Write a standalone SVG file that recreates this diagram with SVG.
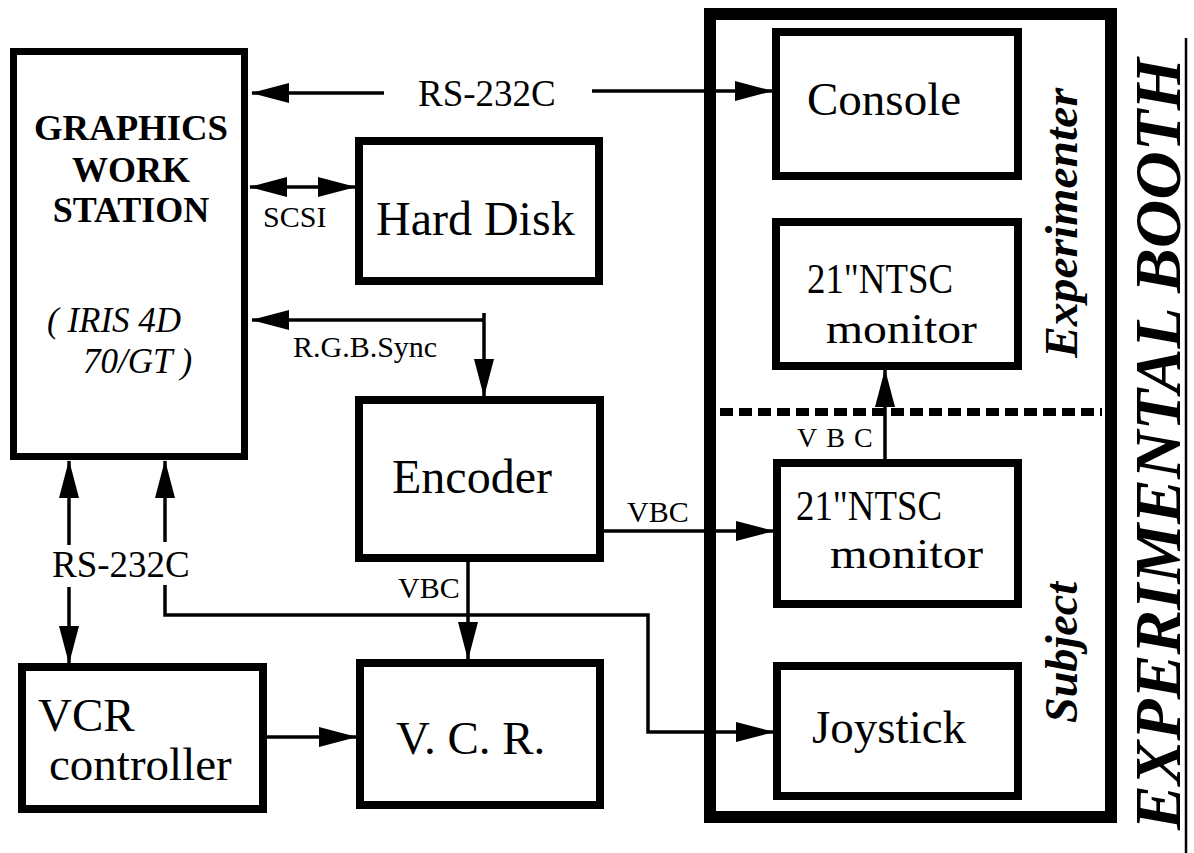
<svg xmlns="http://www.w3.org/2000/svg" width="1194" height="853" viewBox="0 0 1194 853">
<style>
.box{fill:none;stroke:#000;stroke-width:8}
.t{fill:#000}
.c{fill:none;stroke:#000;stroke-width:3.5}
.lbl{fill:#000;font-size:30px}
</style>
<defs>
<marker id="ah" viewBox="0 0 38 20" refX="37" refY="10" markerWidth="38" markerHeight="20" markerUnits="userSpaceOnUse" orient="auto-start-reverse">
<path d="M0,0 L38,10 L0,20 z" fill="#000"/>
</marker>
</defs>
<rect width="1194" height="853" fill="#fff"/>
<g font-family="Liberation Serif, Times New Roman, DejaVu Serif, serif">

<g id="booth">
<rect x="710" y="14" width="401" height="803" fill="none" stroke="#000" stroke-width="12"/>
<line x1="720" y1="412" x2="1102" y2="412" stroke="#000" stroke-width="8" stroke-dasharray="13 6"/>
<text class="t" font-size="46" font-style="italic" font-weight="bold" transform="translate(1077,358) rotate(-90)" textLength="270" lengthAdjust="spacingAndGlyphs">Experimenter</text>
<text class="t" font-size="46" font-style="italic" font-weight="bold" transform="translate(1077,723) rotate(-90)" textLength="141" lengthAdjust="spacingAndGlyphs">Subject</text>
<text class="t" font-size="66" font-style="italic" font-weight="bold" transform="translate(1180,830) rotate(-90)" textLength="772" lengthAdjust="spacingAndGlyphs">EXPERIMENTAL BOOTH</text>
<line x1="1186" y1="38" x2="1186" y2="853" stroke="#000" stroke-width="2.5"/>
</g>

<g id="gws">
<rect x="13.5" y="51.5" width="231" height="405" fill="none" stroke="#000" stroke-width="7"/>
<text class="t" font-size="36" font-weight="bold" text-anchor="middle" x="131" y="140" textLength="194" lengthAdjust="spacingAndGlyphs">GRAPHICS</text>
<text class="t" font-size="36" font-weight="bold" text-anchor="middle" x="131" y="182">WORK</text>
<text class="t" font-size="36" font-weight="bold" text-anchor="middle" x="131" y="222">STATION</text>
<text class="t" font-size="35" font-style="italic" x="47" y="332" xml:space="preserve">( IRIS 4D</text>
<text class="t" font-size="35" font-style="italic" x="83" y="373">70/GT )</text>
</g>

<g id="harddisk">
<rect class="box" x="359" y="141" width="240" height="140"/>
<text class="t" font-size="48" x="376" y="235">Hard Disk</text>
</g>

<g id="encoder">
<rect class="box" x="359" y="400" width="241" height="158"/>
<text class="t" font-size="48" x="392" y="493">Encoder</text>
</g>

<g id="vcrcontroller">
<rect class="box" x="22" y="667" width="241" height="142"/>
<text class="t" font-size="47" x="38" y="731">VCR</text>
<text class="t" font-size="47" x="49" y="780">controller</text>
</g>

<g id="vcr">
<rect class="box" x="360" y="663" width="240" height="142"/>
<text class="t" font-size="47" x="396" y="754" xml:space="preserve">V. C. R.</text>
</g>

<g id="console">
<rect class="box" x="776" y="32" width="242" height="144"/>
<text class="t" font-size="47" x="807" y="115">Console</text>
</g>

<g id="monitor-exp">
<rect class="box" x="776" y="222" width="242" height="144"/>
<text class="t" font-size="42" x="807" y="293" textLength="146" lengthAdjust="spacingAndGlyphs">21"NTSC</text>
<text class="t" font-size="42" x="826" y="343" textLength="151" lengthAdjust="spacingAndGlyphs">monitor</text>
</g>

<g id="monitor-subj">
<rect class="box" x="777" y="463" width="241" height="141"/>
<text class="t" font-size="42" x="796" y="520" textLength="146" lengthAdjust="spacingAndGlyphs">21"NTSC</text>
<text class="t" font-size="42" x="830" y="568" textLength="153" lengthAdjust="spacingAndGlyphs">monitor</text>
</g>

<g id="joystick">
<rect class="box" x="777" y="666" width="241" height="130"/>
<text class="t" font-size="47" x="812" y="743">Joystick</text>
</g>

<g id="connectors">
<line class="c" x1="384" y1="93" x2="252" y2="93" marker-end="url(#ah)"/>
<line class="c" x1="592" y1="91" x2="772" y2="91" marker-end="url(#ah)"/>
<text class="t" font-size="37" x="418" y="106">RS-232C</text>
<line class="c" x1="250" y1="187" x2="355" y2="187" marker-start="url(#ah)" marker-end="url(#ah)"/>
<text class="lbl" x="263" y="227">SCSI</text>
<line class="c" x1="484" y1="320" x2="252" y2="320" marker-end="url(#ah)"/>
<line class="c" x1="484" y1="313" x2="484" y2="396" marker-end="url(#ah)"/>
<text class="lbl" x="293" y="357">R.G.B.Sync</text>
<line class="c" x1="604" y1="531" x2="773" y2="531" marker-end="url(#ah)"/>
<text class="lbl" x="627" y="522">VBC</text>
<line class="c" x1="468" y1="562" x2="468" y2="659" marker-end="url(#ah)"/>
<text class="lbl" x="398" y="598">VBC</text>
<line class="c" x1="885" y1="459" x2="885" y2="370" marker-end="url(#ah)"/>
<text class="t" font-size="28" x="797" y="447" letter-spacing="9">VBC</text>
<line class="c" x1="267" y1="737" x2="356" y2="737" marker-end="url(#ah)"/>
<line class="c" x1="69" y1="545" x2="69" y2="461" marker-end="url(#ah)"/>
<line class="c" x1="69" y1="587" x2="69" y2="663" marker-end="url(#ah)"/>
<text class="t" font-size="37" x="52" y="577">RS-232C</text>
<line class="c" x1="165" y1="542" x2="165" y2="461" marker-end="url(#ah)"/>
<polyline class="c" points="165,585 165,615 648,615 648,732 773,732" marker-end="url(#ah)"/>
</g>
</g>
</svg>
